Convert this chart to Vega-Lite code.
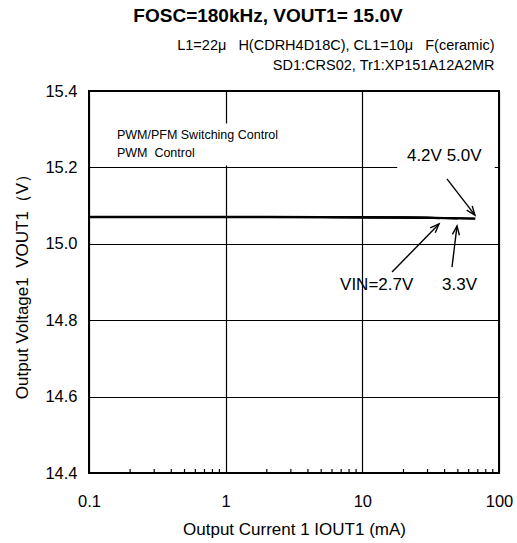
{
  "$schema": "https://vega.github.io/schema/vega-lite/v6.json",
  "width": 410,
  "height": 382,
  "autosize": {"type": "none"},
  "padding": {"left": 89, "top": 91, "right": 18, "bottom": 70},
  "background": "white",
  "title": {
    "text": "FOSC=180kHz, VOUT1= 15.0V",
    "font": "Liberation Sans",
    "fontSize": 19,
    "fontWeight": "bold",
    "color": "black",
    "anchor": "middle",
    "dx": -26,
    "offset": 11
  },
  "config": {
    "view": {"stroke": "black", "strokeWidth": 2},
    "font": "Liberation Sans",
    "text": {"font": "Liberation Sans", "color": "black"},
    "axis": {"labelFont": "Liberation Sans", "titleFont": "Liberation Sans", "labelColor": "black", "titleColor": "black"}
  },
  "datasets": {
    "curves": [
      {"series": "VIN=2.7V", "iout": 0.1, "vout": 15.0705},
      {"series": "VIN=2.7V", "iout": 0.2, "vout": 15.0705},
      {"series": "VIN=2.7V", "iout": 0.5, "vout": 15.0705},
      {"series": "VIN=2.7V", "iout": 1, "vout": 15.0705},
      {"series": "VIN=2.7V", "iout": 2, "vout": 15.0705},
      {"series": "VIN=2.7V", "iout": 5, "vout": 15.0703},
      {"series": "VIN=2.7V", "iout": 10, "vout": 15.0698},
      {"series": "VIN=2.7V", "iout": 20, "vout": 15.069},
      {"series": "VIN=2.7V", "iout": 30, "vout": 15.068},
      {"series": "VIN=2.7V", "iout": 37, "vout": 15.067},
      {"series": "VIN=3.3V", "iout": 0.1, "vout": 15.0702},
      {"series": "VIN=3.3V", "iout": 0.2, "vout": 15.0702},
      {"series": "VIN=3.3V", "iout": 0.5, "vout": 15.0702},
      {"series": "VIN=3.3V", "iout": 1, "vout": 15.0702},
      {"series": "VIN=3.3V", "iout": 2, "vout": 15.0702},
      {"series": "VIN=3.3V", "iout": 5, "vout": 15.07},
      {"series": "VIN=3.3V", "iout": 10, "vout": 15.0696},
      {"series": "VIN=3.3V", "iout": 20, "vout": 15.0689},
      {"series": "VIN=3.3V", "iout": 30, "vout": 15.068},
      {"series": "VIN=3.3V", "iout": 40, "vout": 15.0672},
      {"series": "VIN=3.3V", "iout": 50, "vout": 15.0665},
      {"series": "VIN=4.2V", "iout": 0.1, "vout": 15.0699},
      {"series": "VIN=4.2V", "iout": 0.2, "vout": 15.0699},
      {"series": "VIN=4.2V", "iout": 0.5, "vout": 15.0699},
      {"series": "VIN=4.2V", "iout": 1, "vout": 15.0699},
      {"series": "VIN=4.2V", "iout": 2, "vout": 15.0699},
      {"series": "VIN=4.2V", "iout": 5, "vout": 15.0697},
      {"series": "VIN=4.2V", "iout": 10, "vout": 15.0694},
      {"series": "VIN=4.2V", "iout": 20, "vout": 15.0688},
      {"series": "VIN=4.2V", "iout": 30, "vout": 15.068},
      {"series": "VIN=4.2V", "iout": 40, "vout": 15.0674},
      {"series": "VIN=4.2V", "iout": 50, "vout": 15.0668},
      {"series": "VIN=4.2V", "iout": 67, "vout": 15.066},
      {"series": "VIN=5.0V", "iout": 0.1, "vout": 15.0696},
      {"series": "VIN=5.0V", "iout": 0.2, "vout": 15.0696},
      {"series": "VIN=5.0V", "iout": 0.5, "vout": 15.0696},
      {"series": "VIN=5.0V", "iout": 1, "vout": 15.0696},
      {"series": "VIN=5.0V", "iout": 2, "vout": 15.0696},
      {"series": "VIN=5.0V", "iout": 5, "vout": 15.0694},
      {"series": "VIN=5.0V", "iout": 10, "vout": 15.0691},
      {"series": "VIN=5.0V", "iout": 20, "vout": 15.0686},
      {"series": "VIN=5.0V", "iout": 30, "vout": 15.0679},
      {"series": "VIN=5.0V", "iout": 40, "vout": 15.0673},
      {"series": "VIN=5.0V", "iout": 50, "vout": 15.0667},
      {"series": "VIN=5.0V", "iout": 67, "vout": 15.0658}
    ],
    "minor": [
      {"iout": 0.2}, {"iout": 0.3}, {"iout": 0.4}, {"iout": 0.5}, {"iout": 0.6}, {"iout": 0.7}, {"iout": 0.8}, {"iout": 0.9},
      {"iout": 2}, {"iout": 3}, {"iout": 4}, {"iout": 5}, {"iout": 6}, {"iout": 7}, {"iout": 8}, {"iout": 9},
      {"iout": 20}, {"iout": 30}, {"iout": 40}, {"iout": 50}, {"iout": 60}, {"iout": 70}, {"iout": 80}, {"iout": 90}
    ],
    "boxes": [
      {"x1": 0.13, "x2": 3, "y1": 15.205, "y2": 15.315},
      {"x1": 18, "x2": 93, "y1": 15.19, "y2": 15.272}
    ],
    "arrows": [
      {"label": "4.2V 5.0V", "x1": 41.6, "y1": 15.170, "x2": 66.7, "y2": 15.075},
      {"label": "VIN=2.7V", "x1": 16.5, "y1": 14.926, "x2": 36.4, "y2": 15.052},
      {"label": "3.3V", "x1": 45.3, "y1": 14.939, "x2": 49.3, "y2": 15.047}
    ],
    "notes": [
      {"text": "PWM/PFM Switching Control", "x": 0.16, "y": 15.285},
      {"text": "PWM\u00a0 Control", "x": 0.16, "y": 15.238}
    ],
    "callouts": [
      {"text": "4.2V 5.0V", "x": 21.2, "y": 15.23},
      {"text": "VIN=2.7V", "x": 6.87, "y": 14.892},
      {"text": "3.3V", "x": 38.3, "y": 14.892}
    ]
  },
  "resolve": {"axis": {"x": "independent"}},
  "layer": [
    {
      "data": {"name": "curves"},
      "mark": {"type": "line", "stroke": "black", "strokeWidth": 2},
      "encoding": {
        "x": {
          "field": "iout", "type": "quantitative",
          "scale": {"type": "log", "domain": [0.1, 100], "nice": false},
          "axis": {
            "orient": "bottom",
            "values": [0.1, 1, 10, 100],
            "format": "~g",
            "grid": true, "gridColor": "black", "gridWidth": 1.2, "gridOpacity": 1,
            "ticks": false, "tickSize": 0, "domain": false,
            "labelFontSize": 16.5, "labelPadding": 20, "labelOverlap": false, "labelFlush": false,
            "title": "Output Current 1 IOUT1 (mA)",
            "titleFontSize": 17, "titleFontWeight": "normal",
            "titleY": 48, "titleBaseline": "top"
          }
        },
        "y": {
          "field": "vout", "type": "quantitative",
          "scale": {"domain": [14.4, 15.4], "nice": false, "zero": false},
          "axis": {
            "values": [14.4, 14.6, 14.8, 15.0, 15.2, 15.4],
            "format": ".1f",
            "grid": true, "gridColor": "black", "gridWidth": 1.2, "gridOpacity": 1,
            "ticks": false, "tickSize": 0, "domain": false,
            "labelFontSize": 16.5, "labelPadding": 12,
            "title": "Output Voltage1\u00a0 VOUT1（V）",
            "titleFontSize": 17, "titleFontWeight": "normal",
            "titleX": -67, "titleBaseline": "middle"
          }
        },
        "detail": {"field": "series", "type": "nominal"}
      }
    },
    {
      "data": {"name": "minor"},
      "mark": {"type": "rule", "stroke": "black", "strokeWidth": 1.2},
      "encoding": {
        "x": {"field": "iout", "type": "quantitative", "axis": null},
        "y": {"datum": 14.4},
        "y2": {"datum": 14.4105}
      }
    },
    {
      "data": {"name": "boxes"},
      "mark": {"type": "rect", "fill": "white", "stroke": null},
      "encoding": {
        "x": {
          "field": "x1", "type": "quantitative",
          "axis": {
            "orient": "top", "labels": false, "ticks": false, "domain": false, "grid": false,
            "title": ["L1=22μ\u00a0\u00a0\u00a0H(CDRH4D18C), CL1=10μ\u00a0\u00a0\u00a0F(ceramic)", "SD1:CRS02, Tr1:XP151A12A2MR"],
            "titleFontSize": 14.5, "titleFontWeight": "normal",
            "titleX": 405, "titleY": -39, "titleAlign": "right", "titleBaseline": "bottom",
            "titleLineHeight": 20, "titleAngle": 0
          }
        },
        "x2": {"field": "x2"},
        "y": {"field": "y1", "type": "quantitative"},
        "y2": {"field": "y2"}
      }
    },
    {
      "data": {"name": "arrows"},
      "mark": {"type": "rule", "stroke": "black", "strokeWidth": 1.4},
      "encoding": {
        "x": {"field": "x1", "type": "quantitative", "axis": null},
        "y": {"field": "y1", "type": "quantitative"},
        "x2": {"field": "x2"},
        "y2": {"field": "y2"}
      }
    },
    {
      "data": {"name": "arrows"},
      "transform": [{"filter": "datum.label == '4.2V 5.0V'"}],
      "mark": {"type": "point", "shape": "M-0.35,0.9L0,0L0.35,0.9", "filled": false, "stroke": "black", "strokeWidth": 1.4, "size": 400, "opacity": 1, "angle": 142},
      "encoding": {
        "x": {"field": "x2", "type": "quantitative", "axis": null},
        "y": {"field": "y2", "type": "quantitative"}
      }
    },
    {
      "data": {"name": "arrows"},
      "transform": [{"filter": "datum.label == 'VIN=2.7V'"}],
      "mark": {"type": "point", "shape": "M-0.35,0.9L0,0L0.35,0.9", "filled": false, "stroke": "black", "strokeWidth": 1.4, "size": 400, "opacity": 1, "angle": 44},
      "encoding": {
        "x": {"field": "x2", "type": "quantitative", "axis": null},
        "y": {"field": "y2", "type": "quantitative"}
      }
    },
    {
      "data": {"name": "arrows"},
      "transform": [{"filter": "datum.label == '3.3V'"}],
      "mark": {"type": "point", "shape": "M-0.35,0.9L0,0L0.35,0.9", "filled": false, "stroke": "black", "strokeWidth": 1.4, "size": 400, "opacity": 1, "angle": 7},
      "encoding": {
        "x": {"field": "x2", "type": "quantitative", "axis": null},
        "y": {"field": "y2", "type": "quantitative"}
      }
    },
    {
      "data": {"name": "notes"},
      "mark": {"type": "text", "align": "left", "baseline": "middle", "fontSize": 12.5, "font": "Liberation Sans", "color": "black"},
      "encoding": {
        "x": {"field": "x", "type": "quantitative", "axis": null},
        "y": {"field": "y", "type": "quantitative"},
        "text": {"field": "text"}
      }
    },
    {
      "data": {"name": "callouts"},
      "mark": {"type": "text", "align": "left", "baseline": "middle", "fontSize": 17, "font": "Liberation Sans", "color": "black"},
      "encoding": {
        "x": {"field": "x", "type": "quantitative", "axis": null},
        "y": {"field": "y", "type": "quantitative"},
        "text": {"field": "text"}
      }
    }
  ]
}
